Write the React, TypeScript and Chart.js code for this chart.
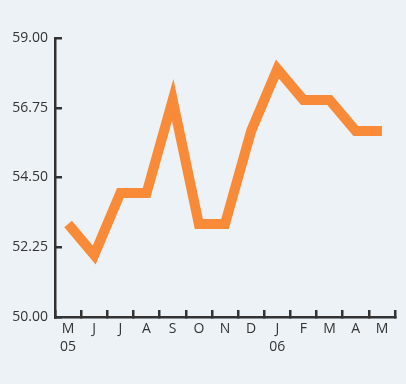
import React, { useEffect, useRef } from "react";
import { Chart, registerables } from "chart.js";

Chart.register(...registerables);

const months = ["M", "J", "J", "A", "S", "O", "N", "D", "J", "F", "M", "A", "M"];
const yearLabels = ["05", "", "", "", "", "", "", "", "06", "", "", "", ""];
const values = [53, 52, 54, 54, 57, 53, 53, 56, 58, 57, 57, 56, 56];
const yTicks = [50, 52.25, 54.5, 56.75, 59];

const BG = "#edf2f6";
const AXIS = "#333333";
const LINE = "#f98b38";

export default function App() {
  const ref = useRef<HTMLCanvasElement | null>(null);
  useEffect(() => {
    document.body.style.margin = "0";
    document.body.style.background = BG;
    const labels = months.map((m, i) => (yearLabels[i] ? [m, yearLabels[i]] : m));
    const chart = new Chart(ref.current!, {
      type: "line",
      data: {
        labels,
        datasets: [
          {
            data: values,
            borderColor: LINE,
            borderWidth: 10,
            borderJoinStyle: "miter",
            borderCapStyle: "butt",
            pointRadius: 0,
            tension: 0,
            fill: false,
          },
        ],
      },
      options: {
        animation: false,
        responsive: false,
        maintainAspectRatio: false,
        layout: { padding: { top: 38, right: 11, bottom: 0, left: 0 } },
        plugins: { legend: { display: false }, tooltip: { enabled: false } },
        scales: {
          x: {
            offset: true,
            grid: {
              offset: true,
              drawOnChartArea: false,
              drawTicks: true,
              tickLength: -7,
              color: AXIS,
              lineWidth: 2.5,
            },
            border: { color: AXIS, width: 2.5 },
            ticks: {
              color: "#333333",
              font: { family: "Open Sans", size: 14, lineHeight: 1.3 },
              padding: 10,
              maxRotation: 0,
              autoSkip: false,
            },
            afterFit: (s: any) => {
              s.height = 67;
            },
          },
          y: {
            min: 50,
            max: 59,
            afterBuildTicks: (s: any) => {
              s.ticks = yTicks.map((v) => ({ value: v }));
            },
            grid: {
              drawOnChartArea: false,
              drawTicks: true,
              tickLength: -7,
              color: AXIS,
              lineWidth: 2.5,
            },
            border: { color: AXIS, width: 2.5 },
            ticks: {
              color: "#333333",
              font: { family: "Open Sans", size: 14 },
              padding: 14,
              callback: (v: any) => Number(v).toFixed(2),
            },
            afterFit: (s: any) => {
              s.width = 55;
            },
          },
        },
      },
      plugins: [
        {
          id: "bg",
          beforeDraw: (c: any) => {
            const ctx = c.ctx;
            ctx.save();
            ctx.fillStyle = BG;
            ctx.fillRect(0, 0, c.width, c.height);
            ctx.restore();
          },
        },
      ],
    });
    return () => chart.destroy();
  }, []);
  return <canvas ref={ref} width={406} height={384} style={{ display: "block" }} />;
}
